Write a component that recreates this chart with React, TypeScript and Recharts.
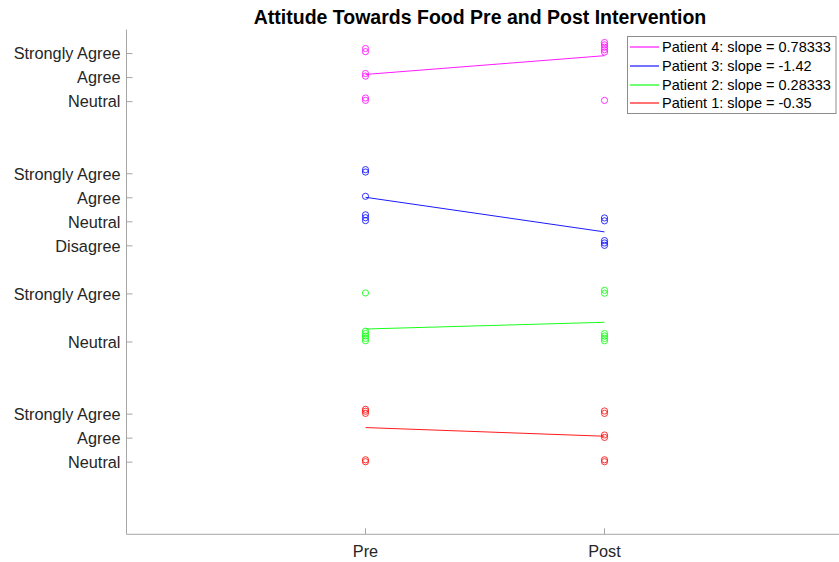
import React from 'react';
import { ScatterChart, Scatter, XAxis, YAxis } from 'recharts';

const categories = ['Pre', 'Post'];
const categoryX = [1, 2];

const yTickValues = [3, 4, 5, 8, 10, 12, 13, 14, 15, 18, 19, 20];
const yTickLabels = [
  'Neutral', 'Agree', 'Strongly Agree',
  'Neutral', 'Strongly Agree',
  'Disagree', 'Neutral', 'Agree', 'Strongly Agree',
  'Neutral', 'Agree', 'Strongly Agree',
];

const patientNames = ['Patient 1', 'Patient 2', 'Patient 3', 'Patient 4'];
const patientColors = ['#ff0000', '#00ff00', '#0000ff', '#ff00ff'];
const slopes = ['-0.35', '0.28333', '-1.42', '0.78333'];

const patient1Pre = [5.03, 5.12, 5.2, 3.02, 3.1];
const patient1Post = [5.03, 5.13, 4.03, 4.13, 3.02, 3.1];
const patient2Pre = [10.04, 8.05, 8.15, 8.25, 8.35, 8.45];
const patient2Post = [10.03, 10.15, 8.05, 8.15, 8.25, 8.35];
const patient3Pre = [15.07, 15.17, 14.06, 13.05, 13.17, 13.29];
const patient3Post = [13.04, 13.16, 12.02, 12.12, 12.22];
const patient4Pre = [20.08, 20.21, 19.06, 19.17, 18.05, 18.15];
const patient4Post = [20.06, 20.16, 20.26, 20.36, 20.46, 18.05];

const patient1Fit = [4.44, 4.08];
const patient2Fit = [8.54, 8.82];
const patient3Fit = [14.02, 12.58];
const patient4Fit = [19.13, 19.91];

const preValues = [patient1Pre, patient2Pre, patient3Pre, patient4Pre];
const postValues = [patient1Post, patient2Post, patient3Post, patient4Post];
const fits = [patient1Fit, patient2Fit, patient3Fit, patient4Fit];

const axisColor = '#a6a6a6';
const textColor = '#262626';
const font = '"Liberation Sans", Arial, Helvetica, sans-serif';

const YTick = (props: any) => {
  const { x, y, payload } = props;
  const idx = yTickValues.indexOf(payload.value);
  return (
    <g>
      <line x1={x} x2={x + 6} y1={y} y2={y} stroke={axisColor} strokeWidth={1} />
      <text x={x - 6} y={y} dy="0.36em" textAnchor="end" fontSize={16.3} fill={textColor} fontFamily={font}>
        {yTickLabels[idx]}
      </text>
    </g>
  );
};

const XTick = (props: any) => {
  const { x, y, payload } = props;
  const idx = categoryX.indexOf(payload.value);
  return (
    <g>
      <line x1={x} x2={x} y1={y} y2={y - 6} stroke={axisColor} strokeWidth={1} />
      <text x={x} y={y + 22.5} textAnchor="middle" fontSize={16.3} fill={textColor} fontFamily={font}>
        {categories[idx]}
      </text>
    </g>
  );
};

const makeCircle = (color: string) => (props: any) => {
  const { cx, cy } = props;
  if (cx == null || cy == null) return <g />;
  return <circle cx={cx} cy={cy} r={3.1} fill="none" stroke={color} strokeWidth={0.8} />;
};

const NoShape = () => <g />;

export default function App() {
  const pointSets = patientNames.map((_, i) => [
    ...preValues[i].map((v) => ({ x: categoryX[0], y: v })),
    ...postValues[i].map((v) => ({ x: categoryX[1], y: v })),
  ]);
  const fitSets = patientNames.map((_, i) => [
    { x: categoryX[0], y: fits[i][0] },
    { x: categoryX[1], y: fits[i][1] },
  ]);
  const legendOrder = [3, 2, 1, 0];

  return (
    <div style={{ position: 'absolute', left: 0, top: 0, width: 839, height: 562, overflow: 'hidden', background: '#fff' }}>
      <ScatterChart width={850} height={562} margin={{ top: 29.5, right: 6.5, bottom: 0, left: 0 }}>
        <XAxis
          type="number"
          dataKey="x"
          domain={[0, 3]}
          ticks={categoryX}
          allowDataOverflow
          height={27.7}
          stroke={axisColor}
          tickLine={false}
          tickSize={0}
          tickMargin={0}
          tick={<XTick />}
          interval={0}
        />
        <YAxis
          type="number"
          dataKey="y"
          domain={[0, 21]}
          ticks={yTickValues}
          allowDataOverflow
          width={126.5}
          stroke={axisColor}
          tickLine={false}
          tickSize={0}
          tickMargin={0}
          tick={<YTick />}
          interval={0}
        />
        {pointSets.map((pts, i) => (
          <Scatter
            key={'p' + i}
            data={pts}
            shape={makeCircle(patientColors[i])}
            isAnimationActive={false}
          />
        ))}
        {fitSets.map((pts, i) => (
          <Scatter
            key={'f' + i}
            data={pts}
            shape={NoShape}
            line={{ stroke: patientColors[i], strokeWidth: 0.9 }}
            lineType="joint"
            isAnimationActive={false}
          />
        ))}
      </ScatterChart>
      <svg width={839} height={562} style={{ position: 'absolute', left: 0, top: 0, pointerEvents: 'none' }}>
        <text x={480} y={23.5} textAnchor="middle" fontSize={19.5} fontWeight="bold" fill="#000" fontFamily={font}>
          Attitude Towards Food Pre and Post Intervention
        </text>
        <rect x={627.5} y={36.5} width={208.5} height={77} fill="#fff" stroke="#8c8c8c" strokeWidth={1} />
        {legendOrder.map((pi, row) => {
          const cy = Math.round(47.3 + row * 18.7);
          return (
            <g key={pi}>
              <line x1={630} x2={659} y1={cy} y2={cy} stroke={patientColors[pi]} strokeWidth={1.3} strokeOpacity={0.85} />
              <text x={662} y={cy} dy="0.36em" fontSize={14.5} fill="#000" fontFamily={font}>
                {patientNames[pi] + ': slope = ' + slopes[pi]}
              </text>
            </g>
          );
        })}
      </svg>
    </div>
  );
}
